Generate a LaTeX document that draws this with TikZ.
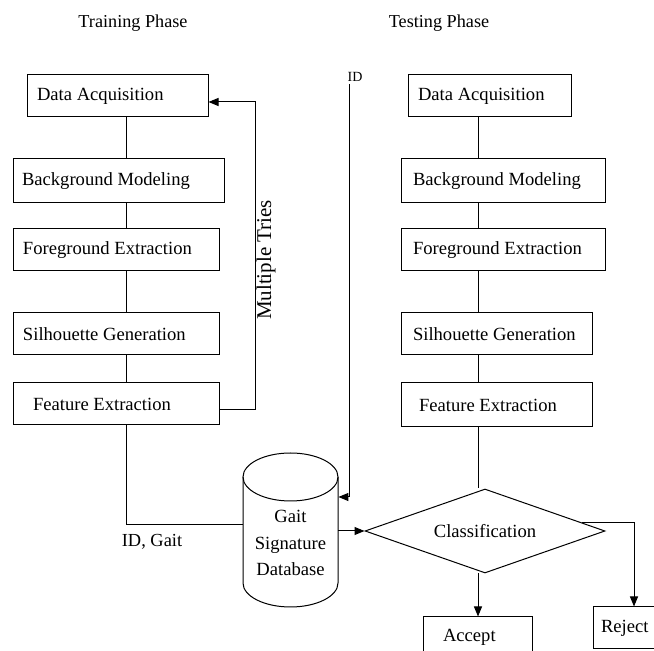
\documentclass[tikz,border=0pt]{standalone}
\usepackage{fontspec}
\setmainfont{Liberation Serif}
\usetikzlibrary{shapes.geometric,arrows.meta,positioning,calc}

\begin{document}
\begin{tikzpicture}[x=0.5pt,y=-0.5pt,
    block/.style={draw, rectangle, line width=0.5pt, inner ysep=0pt, align=flush left, font=\fontsize{9.3}{11}\selectfont},
    pad/.style 2 args={text width=#1, inner xsep=#2},
    arr/.style={line width=0.5pt, -{Triangle[length=5pt,width=4pt]}},
    link/.style={line width=0.5pt}]
    \useasboundingbox (0,0) rectangle (654,651);

    % Phase titles
    \node[font=\fontsize{9.1}{11}\selectfont] (trainT) at (133,23) {Training Phase};
    \node[font=\fontsize{9.1}{11}\selectfont] (testT) at (439,23) {Testing Phase};

    % Training column
    \node[block, pad={80.5pt}{5pt}, minimum height=21pt] (daqL) at (117.5,96) {Data Acquisition};
    \node[block, pad={96.5pt}{4.5pt}, minimum height=22pt] (bgmL) at (118.5,181) {Background Modeling};
    \node[block, pad={93pt}{5pt}, minimum height=21pt] (fgeL) at (116,250) {Foreground Extraction};
    \node[block, pad={93pt}{5pt}, minimum height=21pt] (silL) at (116,334) {Silhouette Generation};
    \node[block, pad={83pt}{10pt}, minimum height=21pt] (fexL) at (116,404) {Feature Extraction};
    \coordinate (spineL) at (126,0);
    \draw[link] (daqL.south -| spineL) -- (bgmL.north -| spineL);
    \draw[link] (bgmL.south -| spineL) -- (fgeL.north -| spineL);
    \draw[link] (fgeL.south -| spineL) -- (silL.north -| spineL);
    \draw[link] (silL.south -| spineL) -- (fexL.north -| spineL);

    % Testing column
    \node[block, pad={71.5pt}{5pt}, minimum height=21pt] (daqR) at (489.5,96) {Data Acquisition};
    \node[block, pad={90pt}{6pt}, minimum height=22pt] (bgmR) at (503,181) {Background Modeling};
    \node[block, pad={90pt}{6pt}, minimum height=21pt] (fgeR) at (503,250) {Foreground Extraction};
    \node[block, pad={83.5pt}{6pt}, minimum height=21pt] (silR) at (496.5,334) {Silhouette Generation};
    \node[block, pad={77.5pt}{9pt}, minimum height=22pt] (fexR) at (496.5,405) {Feature Extraction};
    \coordinate (spineR) at (478,0);
    \draw[link] (daqR.south -| spineR) -- (bgmR.north -| spineR);
    \draw[link] (bgmR.south -| spineR) -- (fgeR.north -| spineR);
    \draw[link] (fgeR.south -| spineR) -- (silR.north -| spineR);
    \draw[link] (silR.south -| spineR) -- (fexR.north -| spineR);

    % Multiple tries loop
    \coordinate (tries) at (255,102);
    \draw[arr] (fexL.east |- 0,410) -| (tries) -- (daqL.east |- tries);
    \node[rotate=90, font=\fontsize{10.5}{12}\selectfont] (triesT) at (266,260) {Multiple Tries};

    % Database
    \node[minimum width=47.5pt, align=center, inner sep=0pt,
          font=\fontsize{9.3}{13.3}\selectfont] (db) at (290.5,543) {Gait\\Signature\\Database};
    \draw[link] (290.5,477) ellipse [x radius=23.75pt, y radius=12pt];
    \draw[link] (243,477) -- (243,583) arc[start angle=180, end angle=360, x radius=23.75pt, y radius=12pt] -- (338,477);

    % Classification
    \node[draw, diamond, aspect=2.86, line width=0.5pt, minimum width=120pt, minimum height=42pt, inner sep=0pt,
          font=\fontsize{9.3}{11}\selectfont] (cls) at (485,531) {Classification};
    \node[block, pad={44.5pt}{5pt}, minimum height=20pt] (acc) at (477.5,637) {\hspace*{5pt}Accept};
    \node[block, pad={24pt}{4pt}, minimum height=21pt] (rej) at (625,628) {Reject};

    % Connections
    \draw[link] (fexL.south -| spineL) |- (db.west |- 0,525);
    \node[font=\fontsize{9.2}{11}\selectfont] (idgait) at (152,542) {ID, Gait};
    \node[font=\fontsize{7}{8}\selectfont] (idT) at (355,77) {ID};
    \coordinate (idTop) at (349,84);
    \draw[arr] (idTop) |- (db.east |- 0,497);
    \draw[arr] (db.east |- cls.west) -- (cls.west);
    \draw[link] (fexR.south -| spineR) -- (cls.north -| spineR);
    \draw[arr] (cls.south -| spineR) -- (acc.north -| spineR);
    \draw[arr] (cls.5) -| ([xshift=4.5pt]rej.north);
\end{tikzpicture}
\end{document}
